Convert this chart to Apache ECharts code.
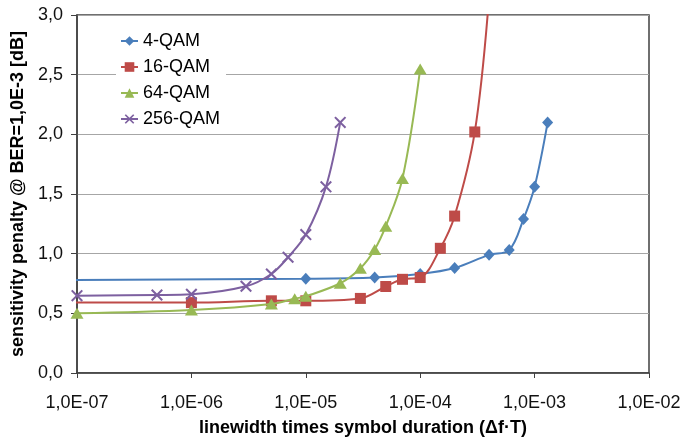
<!DOCTYPE html>
<html>
<head>
<meta charset="utf-8">
<script src="https://cdn.jsdelivr.net/npm/echarts@6/dist/echarts.min.js"></script>
<style>
html,body{margin:0;padding:0;background:#fff;}
#chart{width:685px;height:445px;}
</style>
</head>
<body>
<div id="chart"></div>
<script>
// ---- data ----
var seriesNames = ['4-QAM', '16-QAM', '64-QAM', '256-QAM'];

var qam4X = [1e-8, 1e-5, 4e-5, 1e-4, 2e-4, 4e-4, 6e-4, 8e-4, 1e-3, 1.3e-3];
var qam4Y = [0.775, 0.79, 0.80, 0.83, 0.88, 0.99, 1.03, 1.29, 1.56, 2.10];

var qam16X = [1e-8, 1e-6, 5e-6, 1e-5, 3e-5, 5e-5, 7e-5, 1e-4, 1.5e-4, 2e-4, 3e-4, 4e-4];
var qam16Y = [0.59, 0.59, 0.605, 0.605, 0.625, 0.725, 0.785, 0.80, 1.045, 1.315, 2.02, 3.15];

var qam64X = [1e-7, 1e-6, 5e-6, 8e-6, 1e-5, 2e-5, 3e-5, 4e-5, 5e-5, 7e-5, 1e-4];
var qam64Y = [0.50, 0.528, 0.578, 0.623, 0.643, 0.752, 0.878, 1.035, 1.23, 1.63, 2.548];

var qam256X = [1e-7, 5e-7, 1e-6, 3e-6, 5e-6, 7e-6, 1e-5, 1.5e-5, 2e-5];
var qam256Y = [0.648, 0.654, 0.66, 0.727, 0.83, 0.97, 1.16, 1.56, 2.10];

var xTickLabels = ['1,0E-07', '1,0E-06', '1,0E-05', '1,0E-04', '1,0E-03', '1,0E-02'];
var yTickLabels = ['0,0', '0,5', '1,0', '1,5', '2,0', '2,5', '3,0'];

var xTitle = 'linewidth times symbol duration (\u0394f\u00B7T)';
var yTitle = 'sensitivity penalty @ BER=1,0E-3 [dB]';

// ---- build ----
function pairs(xs, ys) {
  return xs.map(function (x, i) { return [x, ys[i]]; });
}
var crossPath = 'path://M0,1.2L1.2,0L5,3.8L8.8,0L10,1.2L6.2,5L10,8.8L8.8,10L5,6.2L1.2,10L0,8.8L3.8,5Z';

var colors = ['#4A7EBB', '#BE4B48', '#98B954', '#7D60A0'];
var symbols = ['diamond', 'rect', 'triangle', crossPath];
var sizes = [[11, 12], 11, [13, 11], 12];
var dataSets = [pairs(qam4X, qam4Y), pairs(qam16X, qam16Y), pairs(qam64X, qam64Y), pairs(qam256X, qam256Y)];

var font = 'Liberation Sans, Arial, sans-serif';
var axisColor = '#404040';

var series = seriesNames.map(function (name, i) {
  return {
    name: name,
    type: 'line',
    data: dataSets[i],
    smooth: 0.35,
    clip: true,
    symbol: symbols[i],
    symbolSize: sizes[i],
    showAllSymbol: true,
    color: colors[i],
    lineStyle: { width: 2, color: colors[i] },
    itemStyle: { color: colors[i] },
    z: 2 + i
  };
});

var chart = echarts.init(document.getElementById('chart'), null, { renderer: 'canvas' });
chart.setOption({
  animation: false,
  backgroundColor: '#fff',
  grid: {
    left: 77, right: 36, top: 15, bottom: 72,
    show: true, borderColor: axisColor, borderWidth: 1.5, backgroundColor: 'transparent'
  },
  legend: {
    orient: 'vertical',
    left: 116, top: 28,
    padding: [4, 6, 4, 4],
    backgroundColor: '#fff',
    itemWidth: 17, itemHeight: 12, itemGap: 8,
    textStyle: { fontFamily: font, fontSize: 18, color: '#000', lineHeight: 18 },
    data: seriesNames
  },
  xAxis: {
    type: 'log', logBase: 10, min: 1e-7, max: 1e-2,
    name: xTitle, nameLocation: 'middle', nameGap: 46,
    nameTextStyle: { fontFamily: font, fontSize: 18, fontWeight: 'bold', color: '#000' },
    axisLine: { show: true, onZero: false, lineStyle: { color: axisColor, width: 1.5 } },
    axisTick: { show: true, length: 5, lineStyle: { color: axisColor, width: 1 } },
    minorTick: { show: false },
    splitLine: { show: false },
    axisLabel: {
      fontFamily: font, fontSize: 18, color: '#111', margin: 21,
      formatter: function (v) { return xTickLabels[Math.round(Math.log10(v)) + 7]; }
    }
  },
  yAxis: {
    type: 'value', min: 0, max: 3, interval: 0.5,
    name: yTitle, nameLocation: 'middle', nameGap: 50,
    nameTextStyle: { fontFamily: font, fontSize: 18, fontWeight: 'bold', color: '#000' },
    axisLine: { show: true, lineStyle: { color: axisColor, width: 1.5 } },
    axisTick: { show: true, length: 6, lineStyle: { color: axisColor, width: 1 } },
    splitLine: { show: true, lineStyle: { color: '#a6a6a6', width: 1 } },
    axisLabel: {
      fontFamily: font, fontSize: 18, color: '#111', margin: 14,
      formatter: function (v) { return yTickLabels[Math.round(v / 0.5)]; }
    }
  },
  series: series
});
</script>
</body>
</html>
